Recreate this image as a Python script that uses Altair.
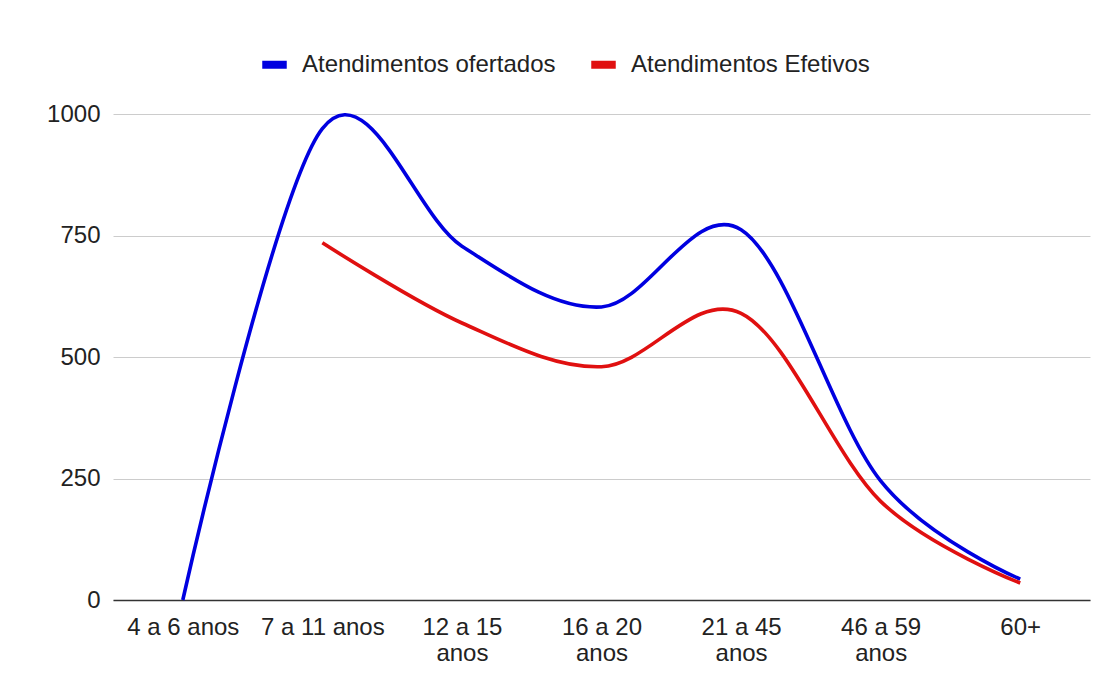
import altair as alt
import pandas as pd

categories = ["4 a 6 anos", "7 a 11 anos", "12 a 15 anos", "16 a 20 anos",
              "21 a 45 anos", "46 a 59 anos", "60+"]
ofertados = [0, 970, 728, 603, 762, 245, 43]
efetivos = [None, 735, 570, 480, 590, 203, 35]
series_names = ["Atendimentos ofertados", "Atendimentos Efetivos"]
series_colors = ["#0000e0", "#e01010"]
y_ticks = [0, 250, 500, 750, 1000]

rows = []
for c, v in zip(categories, ofertados):
    if v is not None:
        rows.append({"faixa": c, "valor": v, "serie": series_names[0]})
for c, v in zip(categories, efetivos):
    if v is not None:
        rows.append({"faixa": c, "valor": v, "serie": series_names[1]})
df = pd.DataFrame(rows)

FONT = "Liberation Sans"
FS = 24

label_expr = ("length(datum.label) > 11 ? "
              "[substring(datum.label, 0, lastindexof(datum.label, ' ')), "
              "substring(datum.label, lastindexof(datum.label, ' ') + 1)] : datum.label")

chart = alt.Chart(df).mark_line(
    interpolate="cardinal", strokeWidth=3.6, strokeCap="butt"
).encode(
    x=alt.X("faixa:N", sort=categories,
            scale=alt.Scale(type="point", padding=0.5),
            axis=alt.Axis(title=None, labelAngle=0, ticks=False, grid=False,
                          domain=True, domainColor="#333333", domainWidth=1.6,
                          labelExpr=label_expr, labelFont=FONT, labelFontSize=FS,
                          labelColor="#222222", labelPadding=15, labelLineHeight=26,
                          labelBaseline="top")),
    y=alt.Y("valor:Q", scale=alt.Scale(domain=[0, 1000], nice=False, zero=True),
            axis=alt.Axis(title=None, values=y_ticks, format="d", ticks=False,
                          domain=False, gridColor="#cccccc", gridWidth=1,
                          labelFont=FONT, labelFontSize=FS, labelColor="#222222",
                          labelPadding=13, minExtent=60, maxExtent=60)),
    color=alt.Color("serie:N", sort=series_names,
                    scale=alt.Scale(domain=series_names, range=series_colors),
                    legend=alt.Legend(title=None, orient="none", direction="horizontal",
                                      legendX=145, legendY=-66,
                                      symbolType="stroke", symbolSize=600,
                                      symbolStrokeWidth=8, labelFont=FONT,
                                      labelFontSize=FS, labelColor="#222222",
                                      labelOffset=11, columnPadding=19,
                                      labelLimit=400)),
    detail="serie:N",
).properties(
    width=977, height=486,
    autosize=alt.AutoSizeParams(type="none"),
    padding={"left": 105, "top": 106, "right": 15, "bottom": 85},
).configure(background="white").configure_view(stroke=None)

chart.save("out.html", embed_options={"renderer": "svg", "actions": False})
